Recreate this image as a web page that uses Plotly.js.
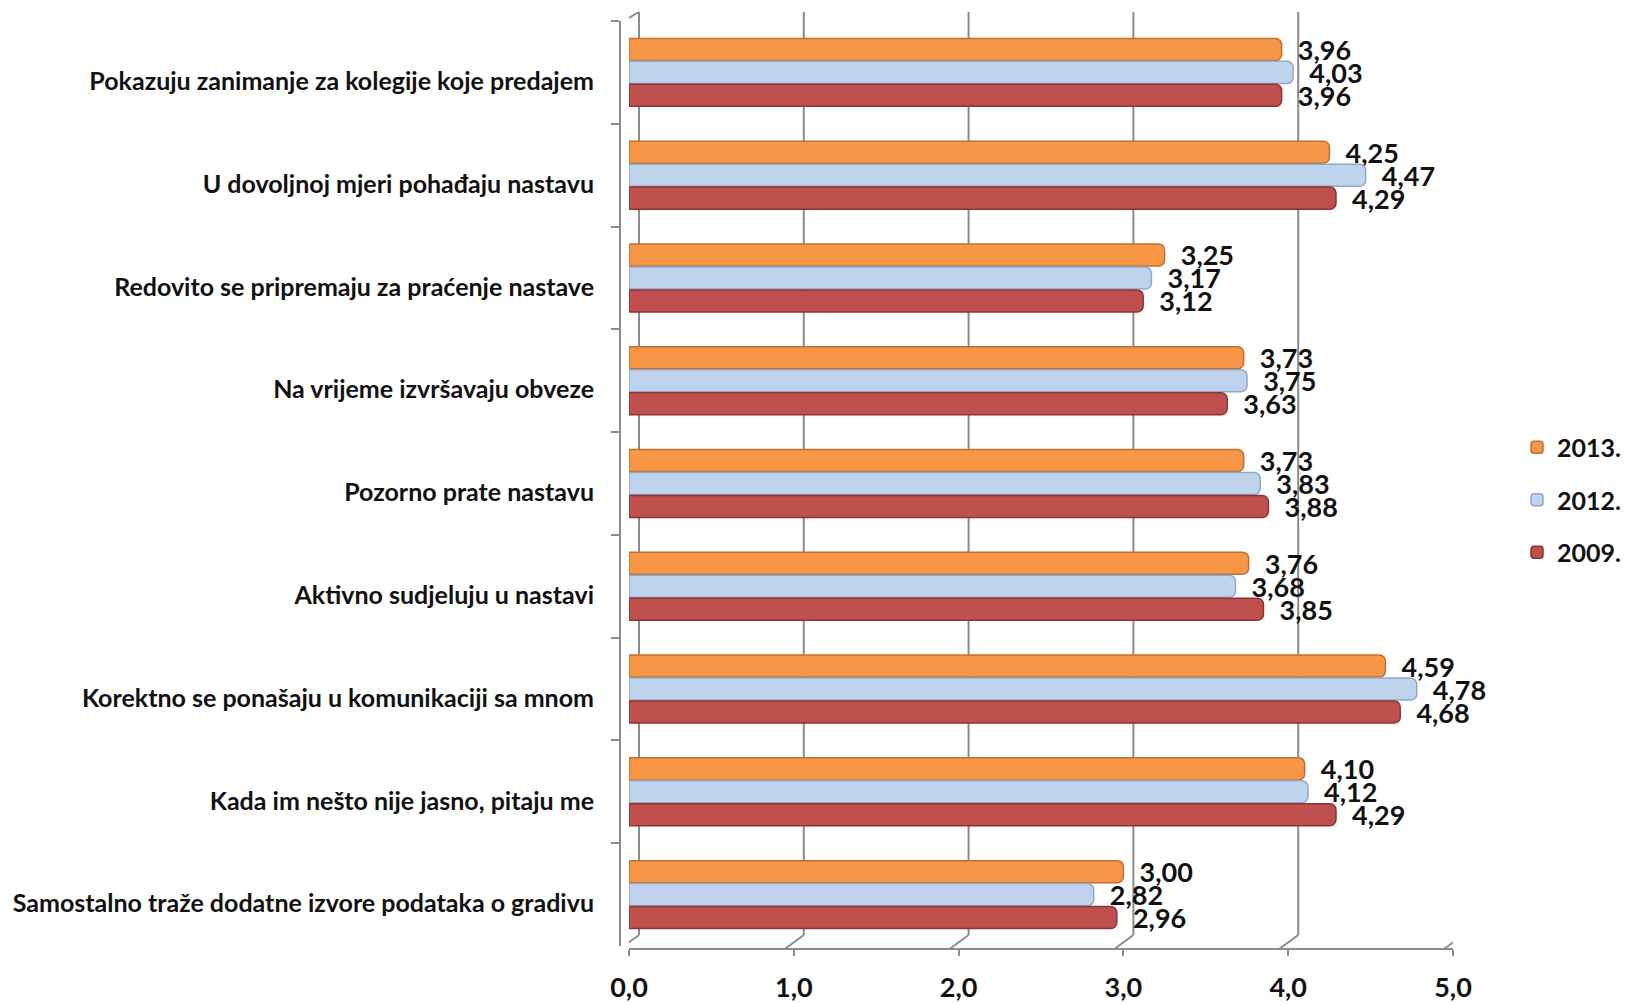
<!DOCTYPE html>
<html>
<head>
<meta charset="utf-8">
<script src="https://cdn.plot.ly/plotly-3.0.1.min.js"></script>
<style>html,body{margin:0;padding:0;background:#fff;}#chart{width:1625px;height:1003px;}</style>
</head>
<body>
<div id="chart"></div>
<script>
const categories = [
  "Pokazuju zanimanje za kolegije koje predajem",
  "U dovoljnoj mjeri pohađaju nastavu",
  "Redovito se pripremaju za praćenje nastave",
  "Na vrijeme izvršavaju obveze",
  "Pozorno prate nastavu",
  "Aktivno sudjeluju u nastavi",
  "Korektno se ponašaju u komunikaciji sa mnom",
  "Kada im nešto nije jasno, pitaju me",
  "Samostalno traže dodatne izvore podataka o gradivu"
];
const series2013 = [3.96, 4.25, 3.25, 3.73, 3.73, 3.76, 4.59, 4.10, 3.00];
const series2012 = [4.03, 4.47, 3.17, 3.75, 3.83, 3.68, 4.78, 4.12, 2.82];
const series2009 = [3.96, 4.29, 3.12, 3.63, 3.88, 3.85, 4.68, 4.29, 2.96];
const seriesNames = ["2013.", "2012.", "2009."];
const xTicks = [0, 1, 2, 3, 4, 5];

const H = 1003, W = 1625;
const py = v => (H - v) / H;
const px = v => v / W;
const FONT = "Lato";
const gridColor = "#8c8c8c";

const styles = [
  {fill: "#F79646", line: "#C0712E"},
  {fill: "#BFD3EC", line: "#8FA8C8"},
  {fill: "#C0504D", line: "#8C3533"}
];
const values = [series2013, series2012, series2009];

const traces = values.map((vals, i) => ({
  type: "bar",
  orientation: "h",
  name: seriesNames[i],
  legendgroup: "g" + i,
  y: categories,
  x: vals,
  marker: {color: styles[i].fill, line: {color: styles[i].line, width: 1.5}, cornerradius: 6},
  text: vals.map(v => "\u00a0\u00a0" + v.toFixed(2).replace(".", ",")),
  textposition: "outside",
  textfont: {family: FONT, size: 27, color: "#111", weight: 700},
  constraintext: "none",
  cliponaxis: false,
  hoverinfo: "skip"
}));
// empty helper trace so the front (depth) axis is drawn
traces.push({type: "scatter", x: [], y: [], xaxis: "x2", yaxis: "y", showlegend: false, hoverinfo: "skip"});

const shapes = [];
xTicks.forEach(k => {
  shapes.push({type: "line", xref: "x", xsizemode: "pixel", xanchor: k, x0: 10, x1: 10,
    yref: "paper", y0: py(935), y1: py(12), line: {color: gridColor, width: 2}, layer: "below"});
  shapes.push({type: "line", xref: "x", xsizemode: "pixel", xanchor: k, x0: 10, x1: -9,
    yref: "paper", ysizemode: "pixel", yanchor: py(935), y0: 0, y1: -14,
    line: {color: gridColor, width: 2}, layer: "below"});
});
shapes.push({type: "line", xref: "x", xsizemode: "pixel", xanchor: 0, x0: 10, x1: -9,
  yref: "paper", ysizemode: "pixel", yanchor: py(12), y0: 0, y1: -11,
  line: {color: gridColor, width: 2}, layer: "below"});

const layout = {
  width: W, height: H,
  margin: {l: 0, r: 0, t: 0, b: 0, autoexpand: false},
  paper_bgcolor: "#fff",
  plot_bgcolor: "rgba(0,0,0,0)",
  separators: ", ",
  barmode: "group",
  bargap: 0.33,
  bargroupgap: 0.04,
  showlegend: true,
  legend: {
    x: px(1517), xanchor: "left", y: py(500), yanchor: "middle",
    font: {family: FONT, size: 25, color: "#111", weight: 700},
    traceorder: "grouped", tracegroupgap: 17,
    itemwidth: 30, bgcolor: "rgba(0,0,0,0)"
  },
  xaxis: {
    domain: [px(629), px(1453)], range: [0, 5],
    showgrid: false, zeroline: false, showticklabels: false, ticks: "", showline: false
  },
  xaxis2: {
    overlaying: "x", anchor: "free", position: py(949),
    domain: [px(620), px(1444)], range: [0, 5],
    tickvals: xTicks, tickformat: ".1f",
    showline: true, linecolor: gridColor, linewidth: 2,
    ticks: "outside", ticklen: 6, tickcolor: gridColor, tickwidth: 2,
    ticklabelstandoff: 9,
    showgrid: false, zeroline: false,
    tickfont: {family: FONT, size: 27, color: "#111", weight: 700}
  },
  yaxis: {
    domain: [py(946), py(21)],
    type: "category", autorange: "reversed",
    anchor: "free", position: px(620),
    showline: true, linecolor: gridColor, linewidth: 2,
    ticks: "outside", tickson: "boundaries", ticklen: 8, tickcolor: gridColor, tickwidth: 2,
    showgrid: false, zeroline: false,
    ticklabelstandoff: 20, ticklabelshift: -9,
    tickfont: {family: FONT, size: 25, color: "#111", weight: 700}
  },
  shapes: shapes
};

Plotly.newPlot("chart", traces, layout, {displayModeBar: false, staticPlot: true});
</script>
</body>
</html>
